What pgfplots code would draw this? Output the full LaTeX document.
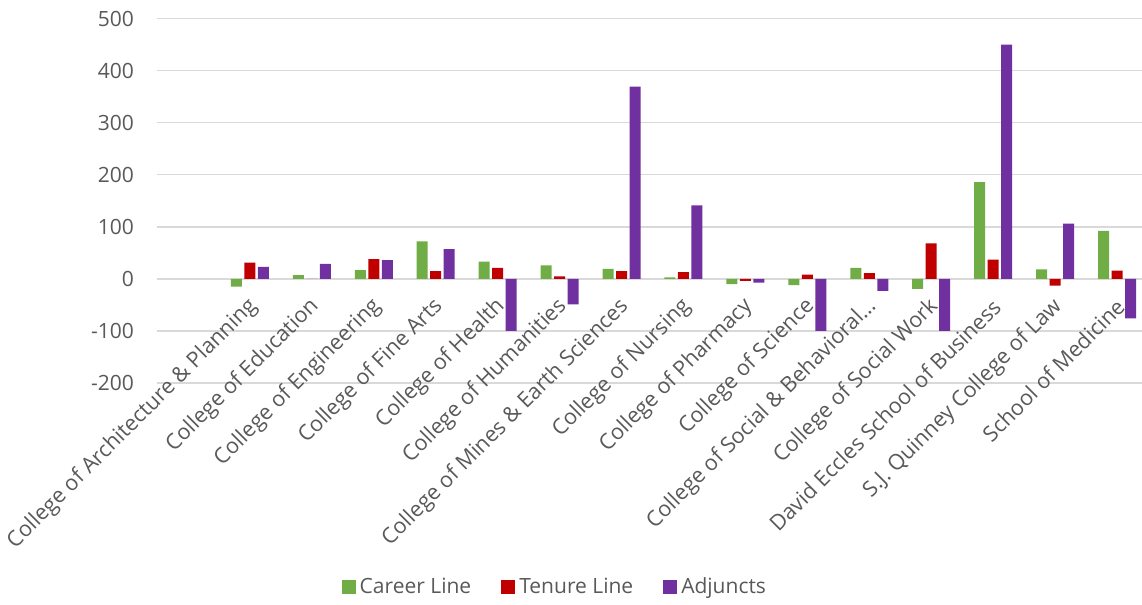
\documentclass[border=0pt]{standalone}
\usepackage{fontspec}
\setmainfont{Open Sans}
\usepackage{pgfplots}
\pgfplotsset{compat=1.18}
\definecolor{cgreen}{HTML}{70AD47}
\definecolor{cred}{HTML}{C00000}
\definecolor{cpurple}{HTML}{7030A0}
\definecolor{ctext}{HTML}{595959}
\definecolor{cgrid}{HTML}{D9D9D9}
\begin{document}
\begin{tikzpicture}
\useasboundingbox (-78.5pt,-111pt) rectangle (492.5pt,191.5pt);
\clip (-78.5pt,-111pt) rectangle (492.5pt,191.5pt);
\begin{axis}[
  at={(0pt,0pt)}, anchor=south west,
  scale only axis, width=492.4pt, height=182.25pt,
  xmin=-1.5, xmax=14.4, ymin=-200, ymax=500,
  ytick={-200,-100,...,500},
  xtick={0,...,14},
  xticklabels={College of Architecture \& Planning, College of Education, College of Engineering, College of Fine Arts, College of Health, College of Humanities, College of Mines \& Earth Sciences, College of Nursing, College of Pharmacy, College of Science, College of Social \& Behavioral…, College of Social Work, David Eccles School of Business, S.J. Quinney College of Law, School of Medicine},
  axis line style={draw=none}, tick style={draw=none},
  ymajorgrids, grid style={cgrid, line width=0.75pt},
  /pgf/number format/assume math mode=true,
  yticklabel style={font=\fontsize{10.5}{12}\selectfont, text=ctext, xshift=-8pt},
  xticklabel style={font=\fontsize{10.8}{12}\selectfont, text=ctext, rotate=45, anchor=east, xshift=33pt, yshift=27pt},
  legend style={at={(0.405,-0.56)}, anchor=center, draw=none, fill=none,
    legend columns=3, font=\fontsize{10.5}{12}\selectfont, text=ctext,
    /tikz/every even column/.append style={column sep=13pt}},
  legend image code/.code={\fill[#1] (0pt,-3.5pt) rectangle (7pt,3.5pt);},
  clip=false,
]
\addplot[ybar, bar width=5.5pt, bar shift=-6.75pt, fill=cgreen, draw=none] coordinates {
(0,-15) (1,7) (2,17) (3,72) (4,33) (5,26) (6,19) (7,3) (8,-10) (9,-12) (10,21) (11,-19) (12,186) (13,18) (14,92)};
\addlegendentry{Career Line}
\addplot[ybar, bar width=5.5pt, bar shift=0pt, fill=cred, draw=none] coordinates {
(0,31) (1,0) (2,38) (3,15) (4,21) (5,5) (6,15) (7,13) (8,-4) (9,8) (10,11) (11,68) (12,37) (13,-13) (14,16)};
\addlegendentry{Tenure Line}
\addplot[ybar, bar width=5.5pt, bar shift=6.75pt, fill=cpurple, draw=none] coordinates {
(0,23) (1,29) (2,36) (3,57) (4,-100) (5,-49) (6,369) (7,141) (8,-7) (9,-100) (10,-23) (11,-100) (12,450) (13,106) (14,-76)};
\addlegendentry{Adjuncts}
\end{axis}
\end{tikzpicture}
\end{document}
